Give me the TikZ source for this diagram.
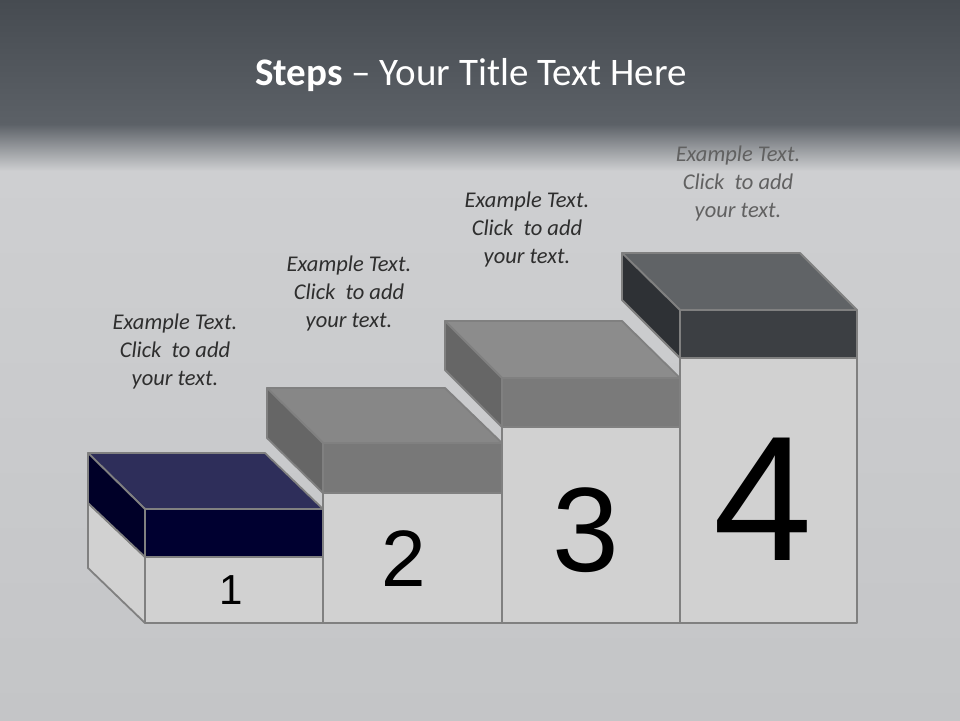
\documentclass[tikz,border=0pt]{standalone}
\usepackage{fontspec}
\setmainfont{Carlito}
\newfontfamily\arialf{Liberation Sans}
\begin{document}
\begin{tikzpicture}[x=1pt,y=-1pt,
  edge/.style={draw=black!50,line width=1.8pt,line join=round},
  white/.style={edge,fill=black!18!white},
  lbl/.style={font=\itshape\fontsize{22.5}{28}\selectfont,align=center,text=black!82},
  num/.style={font=\arialf,text=black}]
\useasboundingbox (0,0) rectangle (960,720);
\shade[top color={rgb,255:red,206;green,207;blue,209},bottom color={rgb,255:red,196;green,197;blue,199}] (0,170) rectangle (960,720);
\shade[top color={rgb,255:red,70;green,75;blue,81},bottom color={rgb,255:red,92;green,97;blue,103}] (0,0) rectangle (960,125);
\shade[top color={rgb,255:red,92;green,97;blue,103},bottom color={rgb,255:red,206;green,207;blue,209}] (0,124) rectangle (960,171);
\node[text=white,font=\fontsize{39}{44}\selectfont] (title) at (471,75) {\textbf{Steps} -- Your Title Text Here};
% step 1
\path[white] (88,503)--(145,557)--(145,623)--(88,568)--cycle;
\path[white] (145,557) rectangle (323,623);
\path[edge,fill={rgb,255:red,46;green,46;blue,90}] (88,453)--(265,453)--(323,509)--(145,509)--cycle;
\path[edge,fill={rgb,255:red,0;green,0;blue,48}] (145,509) rectangle (323,557);
\path[edge,fill={rgb,255:red,0;green,0;blue,40}] (88,453)--(145,509)--(145,557)--(88,503)--cycle;
% step 2
\path[white] (323,493) rectangle (502,623);
\path[edge,fill=black!47] (267,388)--(445,388)--(502,443)--(323,443)--cycle;
\path[edge,fill=black!53] (323,443) rectangle (502,493);
\path[edge,fill=black!60] (267,388)--(323,443)--(323,493)--(267,438)--cycle;
% step 3
\path[white] (502,427) rectangle (680,623);
\path[edge,fill=black!45] (445,321)--(622,321)--(680,378)--(502,378)--cycle;
\path[edge,fill=black!52] (502,378) rectangle (680,427);
\path[edge,fill=black!60] (445,321)--(502,378)--(502,427)--(445,370)--cycle;
% step 4
\path[white] (680,358) rectangle (857,623);
\path[edge,fill={rgb,255:red,96;green,99;blue,102}] (622,253)--(800,253)--(857,310)--(680,310)--cycle;
\path[edge,fill={rgb,255:red,60;green,63;blue,67}] (680,310) rectangle (857,358);
\path[edge,fill={rgb,255:red,46;green,49;blue,53}] (622,253)--(680,310)--(680,358)--(622,300)--cycle;
% numbers
\node[num,font=\arialf\fontsize{42}{42}\selectfont] (n1) at (231,590) {1};
\node[num,font=\arialf\fontsize{80}{80}\selectfont] (n2) at (404,559) {2};
\node[num,font=\arialf\fontsize{120}{120}\selectfont] (n3) at (586,530) {3};
\node[num,font=\arialf\fontsize{178}{178}\selectfont] (n4) at (763,499) {4};
% labels
\node[lbl] (t1) at (175,351) {Example Text.\\Click\ \ to add\\your text.};
\node[lbl] (t2) at (349,293) {Example Text.\\Click\ \ to add\\your text.};
\node[lbl] (t3) at (527,229) {Example Text.\\Click\ \ to add\\your text.};
\node[lbl,text=black!62] (t4) at (738,183) {Example Text.\\Click\ \ to add\\your text.};
\end{tikzpicture}
\end{document}
